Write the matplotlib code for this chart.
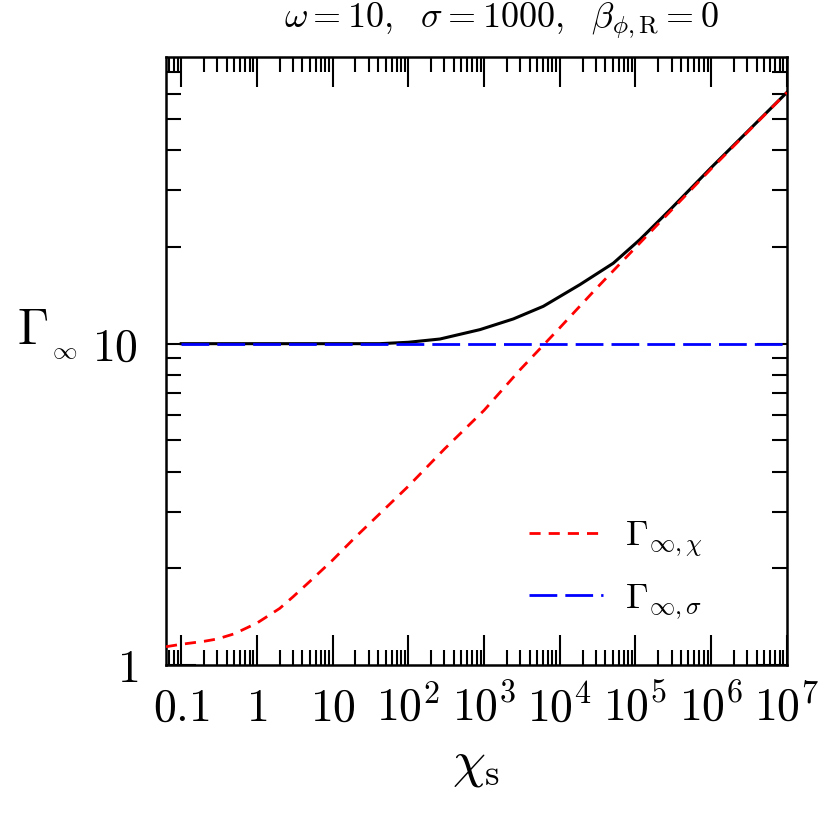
import matplotlib
matplotlib.use('Agg')
import matplotlib.pyplot as plt
from matplotlib.ticker import FixedLocator, NullFormatter
import numpy as np

plt.rcParams['mathtext.fontset'] = 'cm'
plt.rcParams['lines.scale_dashes'] = False

# Gamma_inf,chi (red dashed)
chi_red = [0.063, 0.1, 0.2, 0.3, 0.5, 1, 2, 3, 5, 10, 20, 30, 100, 300,
           1e3, 3e3, 1e4, 3e4, 1e5, 1e6, 1e7]
gam_chi = [1.14, 1.16, 1.185, 1.205, 1.25, 1.35, 1.5, 1.63, 1.82, 2.12, 2.5,
           2.74, 3.6, 4.7, 6.2, 8.3, 11.2, 14.8, 19.9, 35.0, 60.5]

# Gamma_inf,sigma (blue long dash)
chi_sig = [0.1, 1e7]
gam_sig = [10, 10]

# total Gamma_inf (black solid)
chi_tot = [0.1, 10, 42, 100, 262, 885, 2440, 6070, 1.85e4, 5.1e4, 1.15e5,
           3e5, 1e6, 1e7]
gam_tot = [10, 10, 10.0, 10.1, 10.34, 11.06, 11.94, 13.07, 15.27, 17.8, 21.1,
           26.4, 35.3, 60.5]

xtick_vals = [0.1, 1, 10, 1e2, 1e3, 1e4, 1e5, 1e6, 1e7]
xtick_labels = ['$0.1$', '$1$', '$10$', '$10^{2}$', '$10^{3}$', '$10^{4}$',
                '$10^{5}$', '$10^{6}$', '$10^{7}$']
ytick_vals = [1, 10]
ytick_labels = ['$1$', '$10$']

fig = plt.figure(figsize=(8.3, 8.3), dpi=100)
ax = fig.add_axes([0.2, 0.1988, 0.748, 0.7325])

ax.plot(chi_tot, gam_tot, color='black', lw=2.2, zorder=3)
ax.plot(chi_red, gam_chi, color='red', lw=2.0, dashes=(8, 5.8), zorder=3,
        label=r'$\Gamma_{\infty,\chi}$')
ax.plot(chi_sig, gam_sig, color='blue', lw=2.0, dashes=(20, 5.8), zorder=3,
        label=r'$\Gamma_{\infty,\sigma}$')

ax.set_xscale('log')
ax.set_yscale('log')
ax.set_xlim(0.063, 1e7)
ax.set_ylim(1, 78)

ax.xaxis.set_major_locator(FixedLocator(xtick_vals))
ax.set_xticklabels(xtick_labels)
ax.xaxis.set_minor_locator(FixedLocator(
    [m * 10.0**e for e in range(-2, 7) for m in range(2, 10)]))
ax.xaxis.set_minor_formatter(NullFormatter())

ax.yaxis.set_major_locator(FixedLocator(ytick_vals))
ax.set_yticklabels(ytick_labels)
ax.yaxis.set_minor_locator(FixedLocator(
    [m * 10.0**e for e in range(0, 2) for m in range(2, 10)]))
ax.yaxis.set_minor_formatter(NullFormatter())

for s in ax.spines.values():
    s.set_linewidth(1.8)

ax.tick_params(which='both', direction='in', top=True, right=True, width=1.5)
ax.tick_params(which='major', length=21.6)
ax.tick_params(which='minor', length=10.8)
ax.tick_params(axis='x', which='major', labelsize=33, pad=40)
ax.tick_params(axis='y', which='major', labelsize=33, pad=20)
for t in ax.xaxis.get_major_ticks():
    t.label1.set_verticalalignment('baseline')

# axis labels and title
fig.text(17 / 830, 1 - 345 / 830, r'$\Gamma_{{}_{\infty}}$', fontsize=36,
         ha='left', va='baseline')
fig.text(476 / 830, 1 - 776 / 830, r'$\chi_{\mathrm{s}}$', fontsize=38,
         ha='center', va='baseline')
fig.text(501 / 830, 1 - 28 / 830,
         r'$\omega=10,\ \ \sigma=1000,\ \ \beta_{\phi,\mathrm{R}}=0$',
         fontsize=26, ha='center', va='baseline')

ax.legend(loc='upper left', bbox_to_anchor=(0.5845, 0.24), frameon=False,
          fontsize=26, handlelength=2.05, handletextpad=0.6, labelspacing=0.6,
          borderpad=0, borderaxespad=0)

fig.savefig('out.png', dpi=100)
